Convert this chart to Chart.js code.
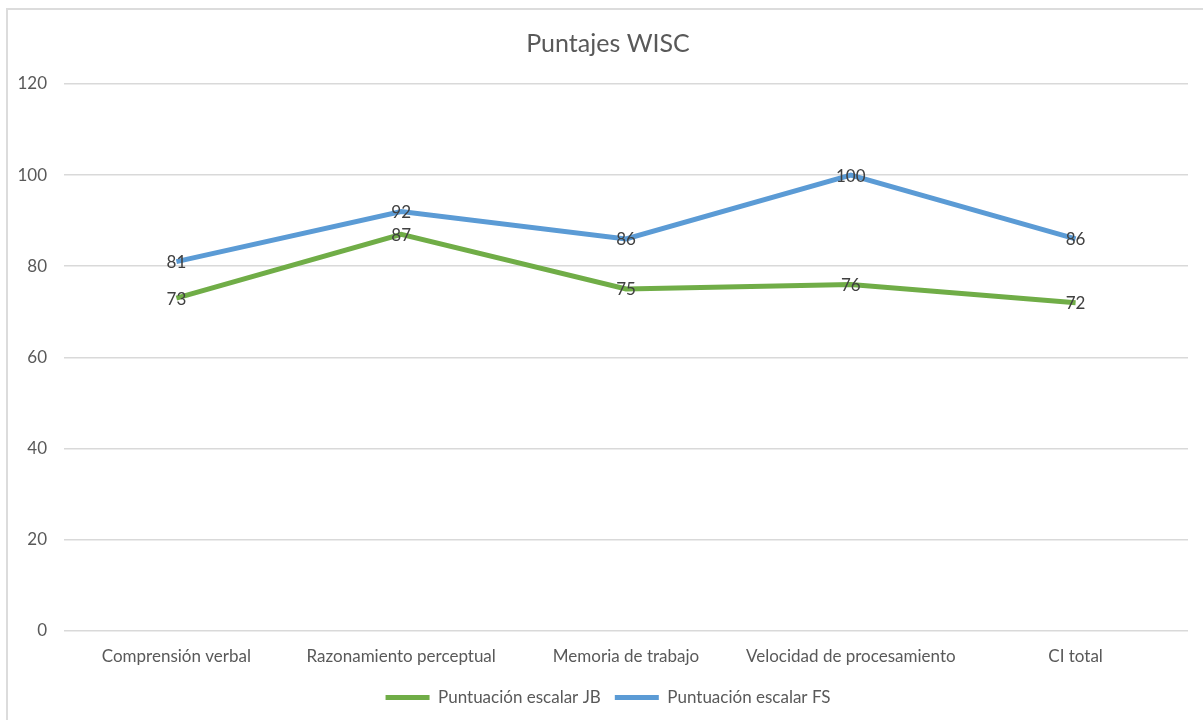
<!DOCTYPE html>
<html>
<head>
<meta charset="utf-8">
<script src="https://cdn.jsdelivr.net/npm/chart.js@4/dist/chart.umd.min.js"></script>
<style>
  html, body { margin: 0; padding: 0; background: #fff; overflow: hidden; }
  #frame { position: absolute; left: 6px; top: 8px; width: 1220px; height: 740px; border: 2px solid #dcdcdc; }
  #wrap { position: absolute; left: 0; top: 0; width: 1203px; height: 720px; }
</style>
</head>
<body>
<div id="frame"></div>
<div id="wrap"><canvas id="wisc"></canvas></div>
<script>
"use strict"

const categories = ["Comprensión verbal", "Razonamiento perceptual", "Memoria de trabajo", "Velocidad de procesamiento", "CI total"];
const scoresJB = [73, 87, 75, 76, 72];
const scoresFS = [81, 92, 86, 100, 86];
const yTicks = [0, 20, 40, 60, 80, 100, 120];

const FONT = "Lato, 'Open Sans', sans-serif";

// numbers written right on top of each point, like the Excel "center" labels
const pointLabels = {
  id: 'pointLabels',
  afterDatasetsDraw(chart) {
    const ctx = chart.ctx;
    ctx.save();
    ctx.font = "17px " + FONT;
    ctx.fillStyle = '#404040';
    ctx.textAlign = 'center';
    ctx.textBaseline = 'middle';
    chart.data.datasets.forEach((ds, i) => {
      chart.getDatasetMeta(i).data.forEach((pt, j) => {
        ctx.fillText(ds.data[j], pt.x, pt.y + 1);
      });
    });
    ctx.restore();
  }
};

// title and legend sit centred on the frame, not on the canvas
const centreOnFrame = {
  id: 'centreOnFrame',
  afterLayout(chart) {
    [chart.titleBlock, chart.legend].forEach(b => { if (b) b.left += 28; });
  }
};

new Chart(document.getElementById('wisc'), {
  type: 'line',
  data: {
    labels: categories,
    datasets: [{
      label: 'Puntuación escalar JB',
      data: scoresJB,
      borderColor: '#70ad47',
      backgroundColor: '#70ad47',
      borderWidth: 5,
      pointRadius: 0,
      tension: 0
    },
    {
      label: 'Puntuación escalar FS',
      data: scoresFS,
      borderColor: '#5b9bd5',
      backgroundColor: '#5b9bd5',
      borderWidth: 5,
      pointRadius: 0,
      tension: 0
    }]
  },
  plugins: [pointLabels, centreOnFrame],
  options: {
    responsive: true,
    maintainAspectRatio: false,
    animation: false,
    layout: { padding: { left: 0, right: 15, top: 0, bottom: 4 } },
    plugins: {
      title: {
        display: true,
        text: 'Puntajes WISC',
        color: '#595959',
        font: { family: FONT, size: 25, weight: 'normal' },
        padding: { top: 29, bottom: 25 }
      },
      legend: {
        position: 'bottom',
        labels: {
          color: '#595959',
          font: { family: FONT, size: 17 },
          boxWidth: 44,
          boxHeight: 5,
          padding: 14,
          generateLabels(chart) {
            return chart.data.datasets.map((ds, i) => ({
              text: ds.label,
              fillStyle: ds.borderColor,
              strokeStyle: ds.borderColor,
              lineWidth: 0,
              fontColor: '#595959',
              datasetIndex: i
            }));
          }
        }
      },
      tooltip: { enabled: false }
    },
    scales: {
      x: {
        offset: true,
        grid: { display: false },
        border: { display: false },
        ticks: { color: '#595959', font: { family: FONT, size: 17 }, padding: 8, maxRotation: 0 }
      },
      y: {
        min: 0,
        max: 120,
        afterFit(scale) { scale.width = 64; },
        afterBuildTicks(scale) { scale.ticks = yTicks.map(v => ({ value: v })); },
        grid: { color: '#d9d9d9', lineWidth: 1.5, drawTicks: false },
        border: { display: false },
        ticks: { color: '#595959', font: { family: FONT, size: 17 }, padding: 17 }
      }
    }
  }
});
</script>
</body>
</html>
